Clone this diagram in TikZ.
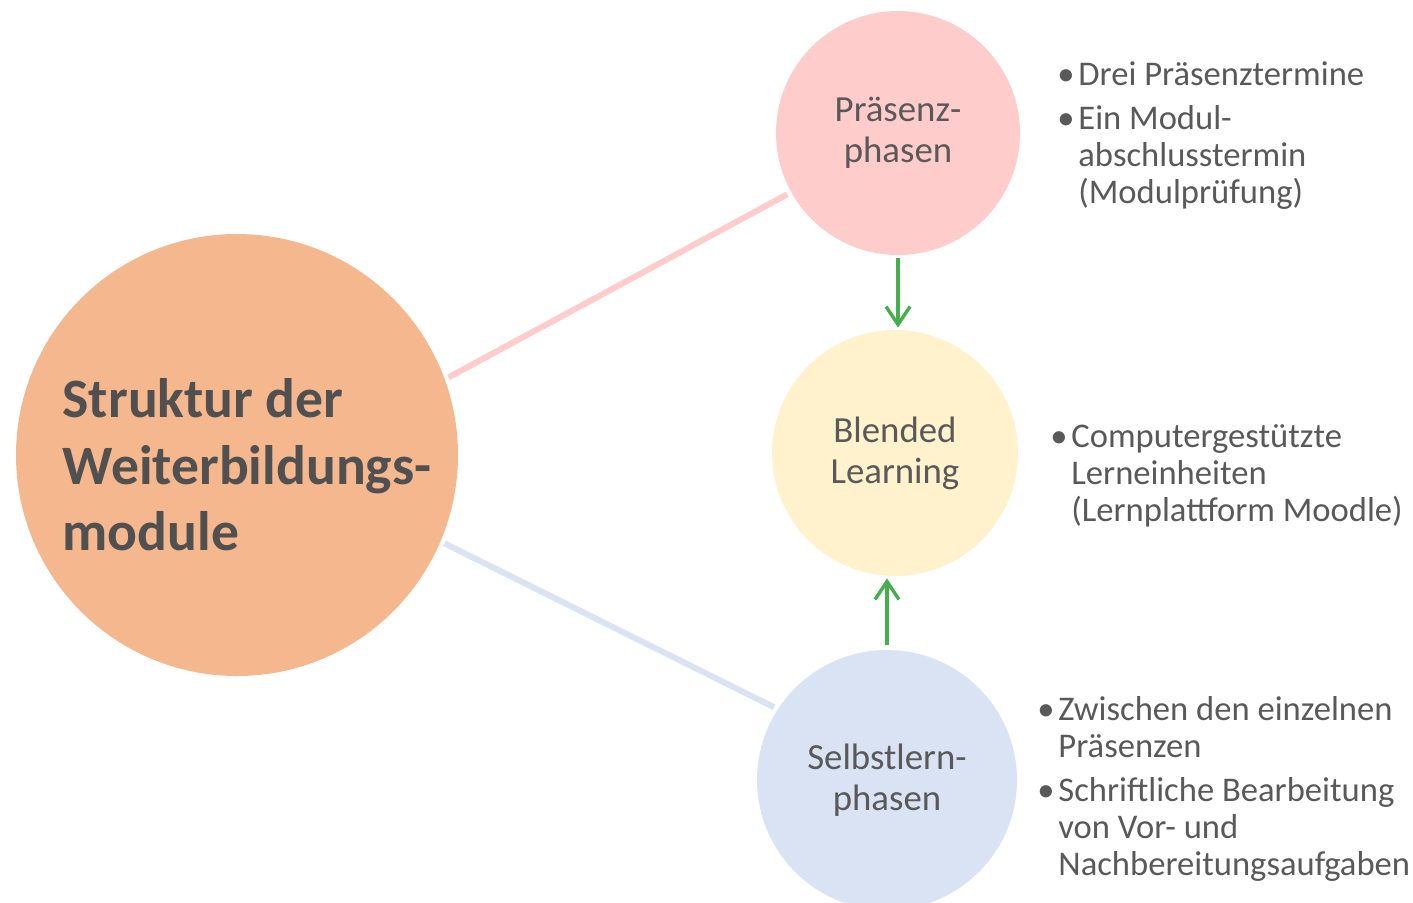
\documentclass[tikz,border=0pt]{standalone}
\usepackage{fontspec}
\setmainfont{Carlito}
\usepackage{tikz}
\usetikzlibrary{shapes,arrows,calc,arrows.meta}
\usetikzlibrary{positioning}
\definecolor{peach}{RGB}{244,183,142}
\definecolor{rosa}{RGB}{255,204,204}
\definecolor{gelb}{RGB}{255,242,204}
\definecolor{hellblau}{RGB}{218,227,243}
\definecolor{gruen}{RGB}{70,175,75}
\definecolor{txtgray}{RGB}{89,89,89}
\definecolor{darkgray}{RGB}{80,80,80}
\newcommand{\bul}{\makebox[10.5pt][l]{\textbullet}}

\begin{document}
\begin{tikzpicture}[x=0.5pt,y=-0.5pt,
    phase/.style={circle, inner sep=0pt, minimum size=123pt, align=center, text=txtgray,
      font=\fontsize{18.4}{20.5}\selectfont},
    stichpunkte/.style={inner sep=0pt, anchor=base west, text=txtgray,
      font=\fontsize{17.3}{18.5}\selectfont},
    verbindung/.style={line width=3pt, shorten <=2pt, shorten >=2pt},
    pfeil/.style={draw=gruen, line width=1.7pt, -{Straight Barb[length=9pt,width=12pt]}}]

    \clip (0,0) rectangle (1413,902);

    \node[circle, fill=peach, inner sep=0pt, minimum size=221pt,
      label={[xshift=5pt, yshift=-5pt, align=left, text=darkgray,
        font=\fontsize{27.8}{33.3}\selectfont\bfseries]center:Struktur der\\Weiterbildungs-\\module}]
      (struktur) at (237,455) {};

    \node[phase, fill=rosa, minimum size=122pt] (praesenz) at (898,133) {Präsenz-\\phasen};
    \node[phase, fill=gelb] (blended) at (895,453) {Blended\\Learning};
    \node[phase, fill=hellblau, minimum size=130pt] (selbst) at (887,780) {Selbstlern-\\phasen};

    \draw[verbindung, rosa] (struktur.20) -- (praesenz.209);
    \draw[verbindung, hellblau] (struktur.-23) -- (selbst.147);

    \draw[pfeil, shorten <=1.5pt, shorten >=1pt] (praesenz.south) -- (praesenz.south |- blended.north);
    \draw[pfeil, shorten <=2.5pt, shorten >=1pt] (selbst.north) -- (selbst.north |- blended.south);

    \node[stichpunkte] (liste1) at (1057,85) {\begin{tabular}[t]{@{}l@{}l@{}}
      \bul & Drei Präsenztermine\\[3.5pt]
      \bul & Ein Modul-\\
           & abschlusstermin\\
           & (Modulprüfung)
    \end{tabular}};
    \node[stichpunkte] (liste2) at (1050,447) {\begin{tabular}[t]{@{}l@{}l@{}}
      \bul & Computergestützte\\
           & Lerneinheiten\\
           & (Lernplattform Moodle)
    \end{tabular}};
    \node[stichpunkte] (liste3) at (1037,720) {\begin{tabular}[t]{@{}l@{}l@{}}
      \bul & Zwischen den einzelnen\\
           & Präsenzen\\[3.5pt]
      \bul & Schriftliche Bearbeitung\\
           & von Vor- und\\
           & Nachbereitungsaufgaben
    \end{tabular}};
\end{tikzpicture}
\end{document}
